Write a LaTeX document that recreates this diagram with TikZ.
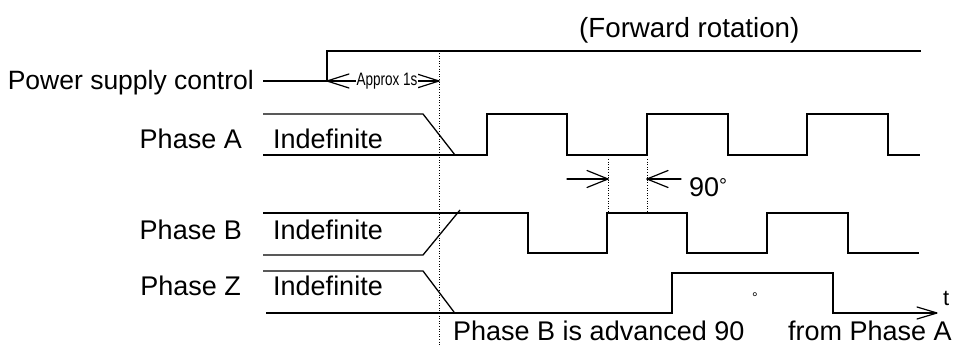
\documentclass[tikz,border=0pt]{standalone}
\usepackage{fontspec}
\setmainfont{Liberation Sans}
\usepackage{graphicx}
\usetikzlibrary{arrows.meta}
\begin{document}
\begin{tikzpicture}[x=1pt,y=-1pt,
  sig/.style={line width=1.3pt, line join=miter},
  dotline/.style={line width=1pt, dash pattern=on 1pt off 1.6pt},
  lbl/.style={font=\fontsize{27}{27}\selectfont, inner sep=0pt},
  hl/.style={line width=1.2pt, line cap=round},
]
\useasboundingbox (0,0) rectangle (957,347);

% title
\node[lbl, font=\fontsize{27.7}{27.7}\selectfont, anchor=base west] (title) at (579,38) {(Forward rotation)};

% power supply control
\node[lbl, font=\fontsize{26.5}{26.5}\selectfont, anchor=base east] (psc) at (254,90) {Power supply control};
\draw[sig] (263,81) -- (327,81) -- (327,51) -- (921,51);
\coordinate (ap1) at (327,81);
\coordinate (ap2) at (439,81);
\draw[hl] (ap1) -- (ap2);
\draw[hl] (ap1) -- ++(22,-7) (ap1) -- ++(22,7);
\draw[hl] (ap2) -- ++(-22,-7) (ap2) -- ++(-22,7);
\node[fill=white, inner sep=1pt] (approx) at (387,81) {\scalebox{0.75}[1]{\fontsize{18}{18}\selectfont Approx 1s}};

% main dotted line
\coordinate (d1) at (439,53);
\coordinate (d2) at (439,347);
\draw[dotline] (d1) -- (d2);

% Phase A
\node[lbl, anchor=base east] (pa) at (242,149) {Phase A};
\node[lbl, anchor=base west] (ia) at (273,149) {Indefinite};
\draw[sig] (263,114) -- (423,114) -- (455,155);
\draw[sig] (263,155) -- (487,155) -- (487,114) -- (567,114) -- (567,155)
  -- (647,155) -- (647,114) -- (728,114) -- (728,155) -- (807,155)
  -- (807,114) -- (888,114) -- (888,155) -- (920,155);

% 90 degree marking
\coordinate (q1) at (608,159);
\coordinate (q2) at (608,213);
\coordinate (q3) at (647,159);
\coordinate (q4) at (647,213);
\draw[dotline] (q1) -- (q2);
\draw[dotline] (q3) -- (q4);
\coordinate (r1) at (567,179);
\coordinate (r2) at (608,179);
\coordinate (l1) at (681,179);
\coordinate (l2) at (647,179);
\draw[hl] (r1) -- (r2);
\draw[hl] (r2) -- ++(-21,-8.5) (r2) -- ++(-21,8.5);
\draw[hl] (l1) -- (l2);
\draw[hl] (l2) -- ++(21,-8.5) (l2) -- ++(21,8.5);
\node[lbl, anchor=base west] (ninety) at (689,197) {90\raisebox{4pt}{\fontsize{20}{20}\selectfont °}};

% Phase B
\node[lbl, anchor=base east] (pb) at (242,239) {Phase B};
\node[lbl, anchor=base west] (ib) at (273,239) {Indefinite};
\draw[sig] (263,255) -- (423,255) -- (460,210);
\draw[sig] (263,213) -- (528,213) -- (528,253) -- (607,253) -- (607,213)
  -- (687,213) -- (687,253) -- (767,253) -- (767,213) -- (848,213)
  -- (848,253) -- (919,253);

% Phase Z
\node[lbl, anchor=base east] (pz) at (241,295) {Phase Z};
\node[lbl, anchor=base west] (iz) at (273,295) {Indefinite};
\draw[sig] (263,271) -- (423,271) -- (454,312);
\coordinate (z0) at (266,313);
\coordinate (zt) at (937,313);
\draw[sig] (z0) -- (672,313) -- (672,273) -- (833,273) -- (833,313) -- (zt);
\draw[hl] (zt) -- ++(-20,-6) (zt) -- ++(-20,6);
\node[inner sep=0pt, font=\fontsize{22}{22}\selectfont, anchor=base west] (t) at (943,305) {t};

% bottom note
\node[lbl, anchor=base west] (note1) at (453,340) {Phase B is advanced 90};
\node[inner sep=0pt, font=\fontsize{14}{14}\selectfont, anchor=north west] (deg) at (752,293) {°};
\node[lbl, anchor=base west] (note2) at (788,340) {from Phase A};
\end{tikzpicture}
\end{document}
